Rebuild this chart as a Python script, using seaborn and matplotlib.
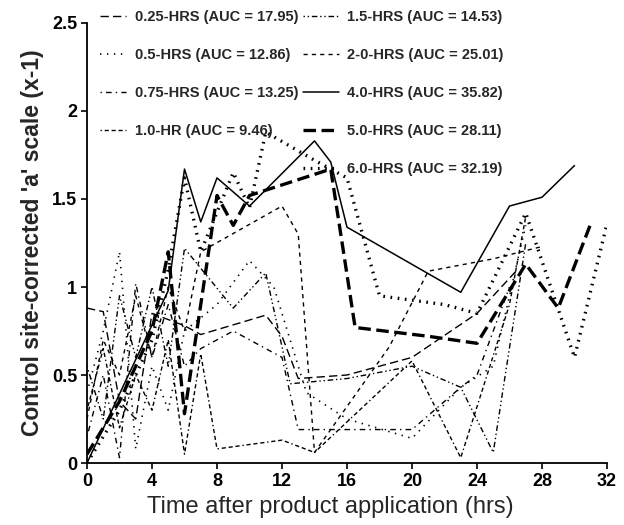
import matplotlib
matplotlib.use("Agg")
import matplotlib.pyplot as plt
import seaborn as sns
import pandas as pd

# ---------------- data ----------------
labels = ["0.25-HRS (AUC = 17.95)", "0.5-HRS (AUC = 12.86)", "0.75-HRS (AUC = 13.25)",
          "1.0-HR (AUC = 9.46)", "1.5-HRS (AUC = 14.53)", "2-0-HRS (AUC = 25.01)",
          "4.0-HRS (AUC = 35.82)", "5.0-HRS (AUC = 28.11)", "6.0-HRS (AUC = 32.19)"]

t_025 = [0, 1, 2, 3, 4, 6, 7, 11, 12, 13, 16, 20, 24, 26.5]
v_025 = [0.88, 0.86, 0.35, 0.25, 0.85, 0.78, 0.73, 0.84, 0.72, 0.48, 0.50, 0.60, 0.85, 1.10]

t_05 = [0, 1, 2, 3, 4, 5, 6, 8, 10, 11.5, 13.5, 16, 20, 23, 25, 27]
v_05 = [0.40, 0.75, 1.20, 0.08, 0.55, 0.30, 0.75, 0.90, 1.15, 1.00, 0.40, 0.25, 0.14, 0.43, 0.55, 1.35]

t_075 = [0, 1, 2, 3, 4, 5, 6, 7, 9, 12, 13, 20, 23, 24, 26]
v_075 = [0.15, 0.50, 0.03, 1.02, 0.60, 0.90, 0.55, 0.65, 0.75, 0.60, 0.19, 0.19, 0.43, 0.50, 1.00]

t_10 = [0, 1, 2, 3, 4, 5, 6, 7, 8, 12, 14, 20, 23, 26, 27]
v_10 = [0.30, 0.65, 0.20, 0.50, 0.30, 0.70, 0.05, 0.62, 0.08, 0.13, 0.06, 0.58, 0.03, 0.90, 1.40]

t_15 = [0, 1, 2, 3, 4, 5, 6, 9, 11, 12.5, 16, 20, 23, 25, 27]
v_15 = [0.55, 0.25, 0.95, 0.60, 1.00, 0.55, 1.22, 0.88, 1.08, 0.45, 0.48, 0.55, 0.43, 0.06, 1.25]

t_20 = [0, 1, 2, 3, 4, 5, 6, 7, 12, 13, 14, 18.6, 21, 25, 28]
v_20 = [0.25, 0.70, 0.50, 0.95, 0.60, 1.00, 0.75, 1.20, 1.46, 1.30, 0.06, 0.66, 1.09, 1.16, 1.23]

t_40 = [0, 5, 6, 7, 8, 10, 14, 15, 16, 23, 26, 28, 30]
v_40 = [0.00, 0.98, 1.67, 1.37, 1.62, 1.46, 1.83, 1.71, 1.34, 0.97, 1.46, 1.51, 1.69]

t_50 = [0, 2, 4, 5, 6, 8, 9, 10, 15, 16.5, 21, 24, 27, 29, 31]
v_50 = [0.05, 0.35, 0.75, 1.20, 0.28, 1.52, 1.35, 1.52, 1.67, 0.77, 0.72, 0.68, 1.13, 0.88, 1.36]

t_60 = [0, 2, 4, 5, 6, 7, 9, 10, 11, 14, 16, 18, 22, 24, 27, 30, 32]
v_60 = [0.00, 0.30, 0.70, 1.10, 1.62, 1.20, 1.65, 1.45, 1.88, 1.72, 1.62, 0.95, 0.90, 0.85, 1.42, 0.60, 1.36]

x_ticks = [0, 4, 8, 12, 16, 20, 24, 28, 32]
y_ticks = [0, 0.5, 1, 1.5, 2, 2.5]
y_tick_labels = ["0", "0.5", "1", "1.5", "2", "2.5"]

series_t = [t_025, t_05, t_075, t_10, t_15, t_20, t_40, t_50, t_60]
series_v = [v_025, v_05, v_075, v_10, v_15, v_20, v_40, v_50, v_60]

frames = []
for lab, tt, vv in zip(labels, series_t, series_v):
    frames.append(pd.DataFrame({"time": tt, "value": vv, "series": lab}))
df = pd.concat(frames, ignore_index=True)

# ---------------- styles ----------------
styles = {
    labels[0]: dict(ls=(0, (6, 3)), lw=1.0),
    labels[1]: dict(ls=(0, (1, 4)), lw=1.2),
    labels[2]: dict(ls=(0, (1, 3, 4, 3)), lw=1.0),
    labels[3]: dict(ls=(0, (1, 2, 3, 2, 3, 2, 3, 2)), lw=1.0),
    labels[4]: dict(ls=(0, (1, 2, 1, 2, 4, 2)), lw=1.0),
    labels[5]: dict(ls=(0, (3, 3)), lw=1.0),
    labels[6]: dict(ls="-", lw=1.1),
    labels[7]: dict(ls=(0, (9, 4)), lw=2.4),
    labels[8]: dict(ls=(0, (1.2, 4)), lw=2.4),
}

sns.set_style("ticks")
plt.rcParams["font.family"] = ["Liberation Sans", "DejaVu Sans"]
plt.rcParams["lines.scale_dashes"] = False

fig = plt.figure(figsize=(6.24, 5.25), dpi=100)
ax = fig.add_axes([87 / 624, 62 / 525, 520 / 624, 440 / 525])

handles = []
for lab in labels:
    sub = df[df["series"] == lab]
    st = styles[lab]
    sns.lineplot(data=sub, x="time", y="value", ax=ax, color="black",
                 estimator=None, sort=False, linestyle=st["ls"], linewidth=st["lw"],
                 legend=False)
    handles.append(ax.lines[-1])

ax.set_xlim(0, 32)
ax.set_ylim(0, 2.5)
ax.set_xticks(x_ticks)
ax.set_yticks(y_ticks)
ax.set_yticklabels(y_tick_labels)
for sp in ["top", "right"]:
    ax.spines[sp].set_visible(False)
for sp in ["left", "bottom"]:
    ax.spines[sp].set_linewidth(1.3)
    ax.spines[sp].set_color("black")
ax.tick_params(axis="both", direction="out", length=4, width=1.2, colors="black",
               labelsize=13, pad=3)
for lbl in ax.get_xticklabels() + ax.get_yticklabels():
    lbl.set_fontweight("bold")

ax.set_xlabel("Time after product application (hrs)", fontsize=17)
ax.xaxis.set_label_coords(0.468, -0.075)
ax.set_ylabel("Control site-corrected 'a' scale (x-1)", fontsize=16.5, fontweight="bold",
              labelpad=6)

base_kw = dict(frameon=False, prop=dict(size=10.5, weight="bold"),
               labelspacing=1.65, borderpad=0, borderaxespad=0,
               bbox_transform=fig.transFigure, loc="upper left")
leg1 = ax.legend(handles[:4], labels[:4], bbox_to_anchor=(100 / 624, 1 - 10 / 525),
                 handlelength=1.8, handletextpad=0.6, **base_kw)
ax.add_artist(leg1)
ax.legend(handles[4:], labels[4:], bbox_to_anchor=(303 / 624, 1 - 10 / 525),
          handlelength=2.5, handletextpad=0.5, **base_kw)

fig.savefig("out.png", dpi=100)
